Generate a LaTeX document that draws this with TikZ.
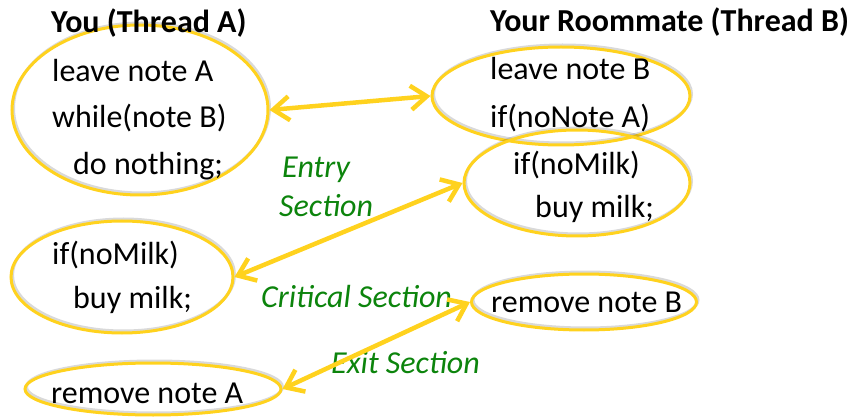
\documentclass[tikz,border=0pt]{standalone}
\usepackage{fontspec}
\setmainfont{Carlito}
\usetikzlibrary{shapes.geometric,arrows.meta}
\definecolor{gold}{RGB}{255,210,30}
\definecolor{sgreen}{RGB}{12,132,12}
\begin{document}
\begin{tikzpicture}[x=1pt,y=-1pt,
  ell/.style={ellipse, draw=gold, line width=3pt, inner sep=0pt,
    preaction={draw=black, draw opacity=0.15, line width=3pt,
      transform canvas={shift={(1.5pt,2pt)}}}},
  txt/.style={anchor=base west, inner sep=0pt, font=\fontsize{32}{38}\selectfont},
  hdr/.style={txt, font=\fontsize{32}{38}\selectfont\bfseries},
  lbl/.style={txt, text=sgreen, font=\fontsize{32}{38}\selectfont\itshape},
  arr/.style={draw=gold, line width=4.5pt, line cap=round, line join=round,
    {Straight Barb[length=16pt,width=24pt]}-{Straight Barb[length=16pt,width=24pt]}}]
\useasboundingbox (0,0) rectangle (855,417);
% ellipses
\node[ell, minimum width=256pt, minimum height=170pt] (e1) at (140,110) {};
\node[ell, minimum width=258pt, minimum height=98pt]  (e2) at (561,96) {};
\node[ell, minimum width=226pt, minimum height=106pt] (e3) at (577,183) {};
\node[ell, minimum width=225pt, minimum height=56pt]  (e4) at (584,302) {};
\node[ell, minimum width=222pt, minimum height=112pt] (e5) at (122,277) {};
\node[ell, minimum width=256pt, minimum height=52pt]  (e6) at (153,389) {};
% headers
\node[hdr] (hA) at (51,33) {You (Thread A)};
\node[hdr] (hB) at (490,32) {Your Roommate (Thread B)};
% thread A text
\node[txt] (a1) at (52,82) {leave note A};
\node[txt] (a2) at (52,128) {while(note B)};
\node[txt] (a3) at (73,175) {do nothing;};
\node[txt] (a4) at (52,265) {if(noMilk)};
\node[txt] (a5) at (73,308) {buy milk;};
\node[txt] (a6) at (51,403) {remove note A};
% thread B text
\node[txt] (b1) at (490,80) {leave note B};
\node[txt] (b2) at (490,128) {if(noNote A)};
\node[txt] (b3) at (513,175) {if(noMilk)};
\node[txt] (b4) at (535,218) {buy milk;};
\node[txt] (b5) at (491,312) {remove note B};
% section labels
\node[lbl] (l1) at (282,178) {Entry};
\node[lbl] (l2) at (279,217) {Section};
\node[lbl] (l3) at (261,307) {Critical Section};
\node[lbl] (l4) at (331,373) {Exit Section};
% connectors
\draw[arr] (e1.east) -- (e2.west);
\draw[arr] (e5.east) -- (e3.west);
\draw[arr] (e6.east) -- (e4.west);
\end{tikzpicture}
\end{document}
